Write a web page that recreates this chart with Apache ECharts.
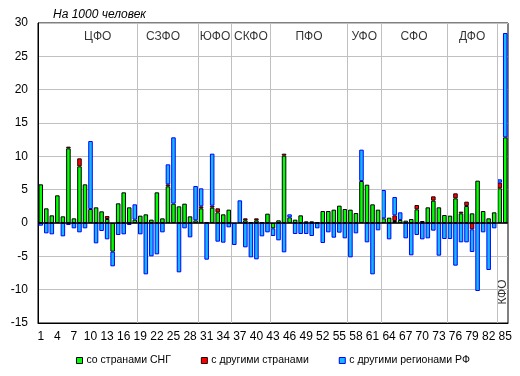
<!DOCTYPE html>
<html>
<head>
<meta charset="utf-8">
<script src="https://cdn.jsdelivr.net/npm/echarts@6/dist/echarts.min.js"></script>
<style>
  html, body { margin: 0; padding: 0; background: #fff; }
  #chart { width: 520px; height: 376px; }
</style>
</head>
<body>
<div id="chart"></div>
<script>
// номера регионов 1..85
var regions = [];
for (var i = 1; i <= 85; i++) regions.push(String(i));

// сальдо миграции на 1000 человек
var cisValues = [
  5.8, 2.2, 1.15, 4.15, 1.0, 11.2, 0.7, 8.5, 5.8, 2.1, 2.35, 1.75, 0.6, -4.3, 2.95, 4.6, 2.35, 0.5,
  1.1, 1.3, 0.5, 4.6, 0.7, 5.5, 2.9, 2.5, 2.9, 1.0, 0.4,
  2.2, 0.1, 2.3, 1.6, 1.3, 2.0,
  0, 0, 0.4, 0.1, 0.4, 0.1, 1.4,
  -0.8, 0.4, 10.1, 0.85, 0.5, 1.15, 0.25, 0.25, 0.1, 1.8, 1.8, 2.0, 2.6, 2.1,
  2.0, 1.5, 6.3, 5.75, 2.8, 2.0,
  0.7, 0.8, 0.3, 0.45, 0.35, 0.6, 2.05, 0.3, 2.35, 3.35, 2.35, 1.2,
  1.1, 3.7, 1.45, 2.55, 1.45, 6.35, 1.8, 0.7, 1.6,
  5.2, 12.85
];
var otherCountriesValues = [
  0, 0, 0, 0, 0, 0.25, 0, 1.2, 0, 0, 0, 0, 0.45, 0, 0, 0, 0, 0,
  0, 0, 0, 0, 0, 0.3, 0, 0, 0, 0, 0,
  0.3, 0, 0.3, 0.6, 0, 0,
  0, 0, 0.3, 0, 0.3, 0, 0,
  0, 0, 0.3, 0, 0, 0, 0, 0, 0, 0, 0, 0, 0, 0,
  0, 0, 0, 0, 0, 0,
  0, 0, 0.85, 0, 0, 0, 0.65, 0, 0, 0.65, 0, 0,
  0, 0.75, 0.25, 0.65, -0.95, 0, 0, 0, 0,
  0.85, 0
];
var otherRegionsValues = [
  -0.4, -1.55, -1.7, 0, -2.0, -0.3, -0.8, -1.4, -0.8, 10.2, -3.05, -1.2, -2.45, -2.2, -1.8, -1.7, -0.3, 2.3,
  -1.7, -7.7, -5.0, -4.7, -1.4, 3.0, 9.95, -7.4, -0.8, -2.15, 5.15,
  2.7, -5.5, 7.8, -2.8, -2.95, -0.65,
  -3.3, 3.4, -3.65, -5.15, -5.45, -2.0, -1.4,
  -1.15, -2.6, -4.4, 0.45, -1.65, -1.65, -1.65, -1.95, -0.8, -3.0, -1.4, -2.2, -1.45, -2.3,
  -5.15, -1.55, 4.7, -2.9, -7.7, -1.1,
  4.25, -2.45, 2.75, 1.15, -2.3, -4.85, -1.8, -2.45, -2.3, -1.15, -4.9, -2.4,
  -2.4, -6.4, -2.9, -2.9, -3.4, -10.2, -1.4, -7.05, -0.8,
  0.5, 15.65
];

// федеральные округа: последний номер региона в каждом
var districtNames = ['ЦФО', 'СЗФО', 'ЮФО', 'СКФО', 'ПФО', 'УФО', 'СФО', 'ДФО', 'КФО'];
var districtEnds = [18, 29, 35, 42, 56, 62, 74, 83, 85];

var yTicks = [-15, -10, -5, 0, 5, 10, 15, 20, 25, 30];

function noZero(arr) {
  return arr.map(function (v) { return v === 0 ? '-' : v; });
}

var separators = districtEnds.slice(0, -1).map(function (e) {
  return { xAxis: e + 0.5 };
});

var labelShift = { 'ЦФО': [10, 0], 'СЗФО': [-5, 0] };
var districtLabels = districtNames.map(function (name, k) {
  var start = k === 0 ? 0 : districtEnds[k - 1];
  var mid = (start + districtEnds[k]) / 2 + 0.5;
  if (name === 'КФО') {
    return { value: [mid, -10.35], name: name, label: { rotate: 90 } };
  }
  return { value: [mid, 28], name: name, label: { offset: labelShift[name] || [0, 0] } };
});

var chart = echarts.init(document.getElementById('chart'));
var option = {
  animation: false,
  backgroundColor: '#fff',
  textStyle: { fontFamily: 'Liberation Sans, Arial, sans-serif' },
  title: {
    text: 'На 1000 человек',
    left: 53,
    top: 9,
    padding: 0,
    textStyle: { fontSize: 12, fontStyle: 'italic', fontWeight: 'normal', color: '#000' }
  },
  legend: {
    left: 76,
    top: 355,
    padding: 0,
    itemWidth: 6,
    itemHeight: 6,
    itemGap: 30,
    icon: 'rect',
    itemStyle: { borderWidth: 1 },
    textStyle: { fontSize: 10.5, color: '#000', padding: [0, 0, 0, -1] },
    data: ['со странами СНГ', 'с другими странами', 'с другими регионами РФ']
  },
  grid: {
    left: 38, right: 12, top: 23, bottom: 53,
    show: true, borderColor: '#000', borderWidth: 1, backgroundColor: '#fff'
  },
  xAxis: [
    {
      type: 'category',
      data: regions,
      boundaryGap: true,
      axisLine: { onZero: false, lineStyle: { color: '#000' } },
      axisTick: { show: false },
      axisLabel: { interval: 2, margin: 8, fontSize: 12, color: '#000' },
      splitLine: { show: false }
    },
    {
      type: 'value',
      min: 0.5,
      max: 85.5,
      show: false
    }
  ],
  yAxis: {
    type: 'value',
    min: yTicks[0],
    max: yTicks[yTicks.length - 1],
    interval: 5,
    axisLine: { show: true, lineStyle: { color: '#000' } },
    axisTick: { show: false },
    axisLabel: { margin: 10, fontSize: 12, color: '#000' },
    splitLine: { show: true, lineStyle: { color: '#c0c0c0', width: 1 } }
  },
  series: [
    {
      name: 'districts',
      type: 'scatter',
      xAxisIndex: 1,
      z: 1,
      symbolSize: 0,
      silent: true,
      data: districtLabels,
      label: {
        show: true,
        position: 'inside',
        formatter: '{b}',
        fontSize: 12,
        color: '#000'
      },
      markLine: {
        silent: true,
        symbol: 'none',
        label: { show: false },
        lineStyle: { color: '#c0c0c0', width: 1, type: 'solid' },
        data: separators
      }
    },
    {
      name: 'со странами СНГ',
      type: 'bar',
      stack: 'saldo',
      barWidth: '82%',
      data: noZero(cisValues),
      itemStyle: { color: '#00ff00', borderColor: '#000', borderWidth: 1 }
    },
    {
      name: 'с другими странами',
      type: 'bar',
      stack: 'saldo',
      barWidth: '82%',
      data: noZero(otherCountriesValues),
      itemStyle: { color: '#ff0000', borderColor: '#200000', borderWidth: 1 }
    },
    {
      name: 'с другими регионами РФ',
      type: 'bar',
      stack: 'saldo',
      barWidth: '82%',
      data: noZero(otherRegionsValues),
      itemStyle: { color: '#14b8ff', borderColor: '#0000ff', borderWidth: 1 }
    },
    {
      name: 'zero',
      type: 'line',
      z: 5,
      data: [],
      markLine: {
        silent: true,
        symbol: 'none',
        label: { show: false },
        lineStyle: { color: '#000', width: 1.5, type: 'solid' },
        data: [{ yAxis: 0 }]
      }
    }
  ]
};
chart.setOption(option);
</script>
</body>
</html>
